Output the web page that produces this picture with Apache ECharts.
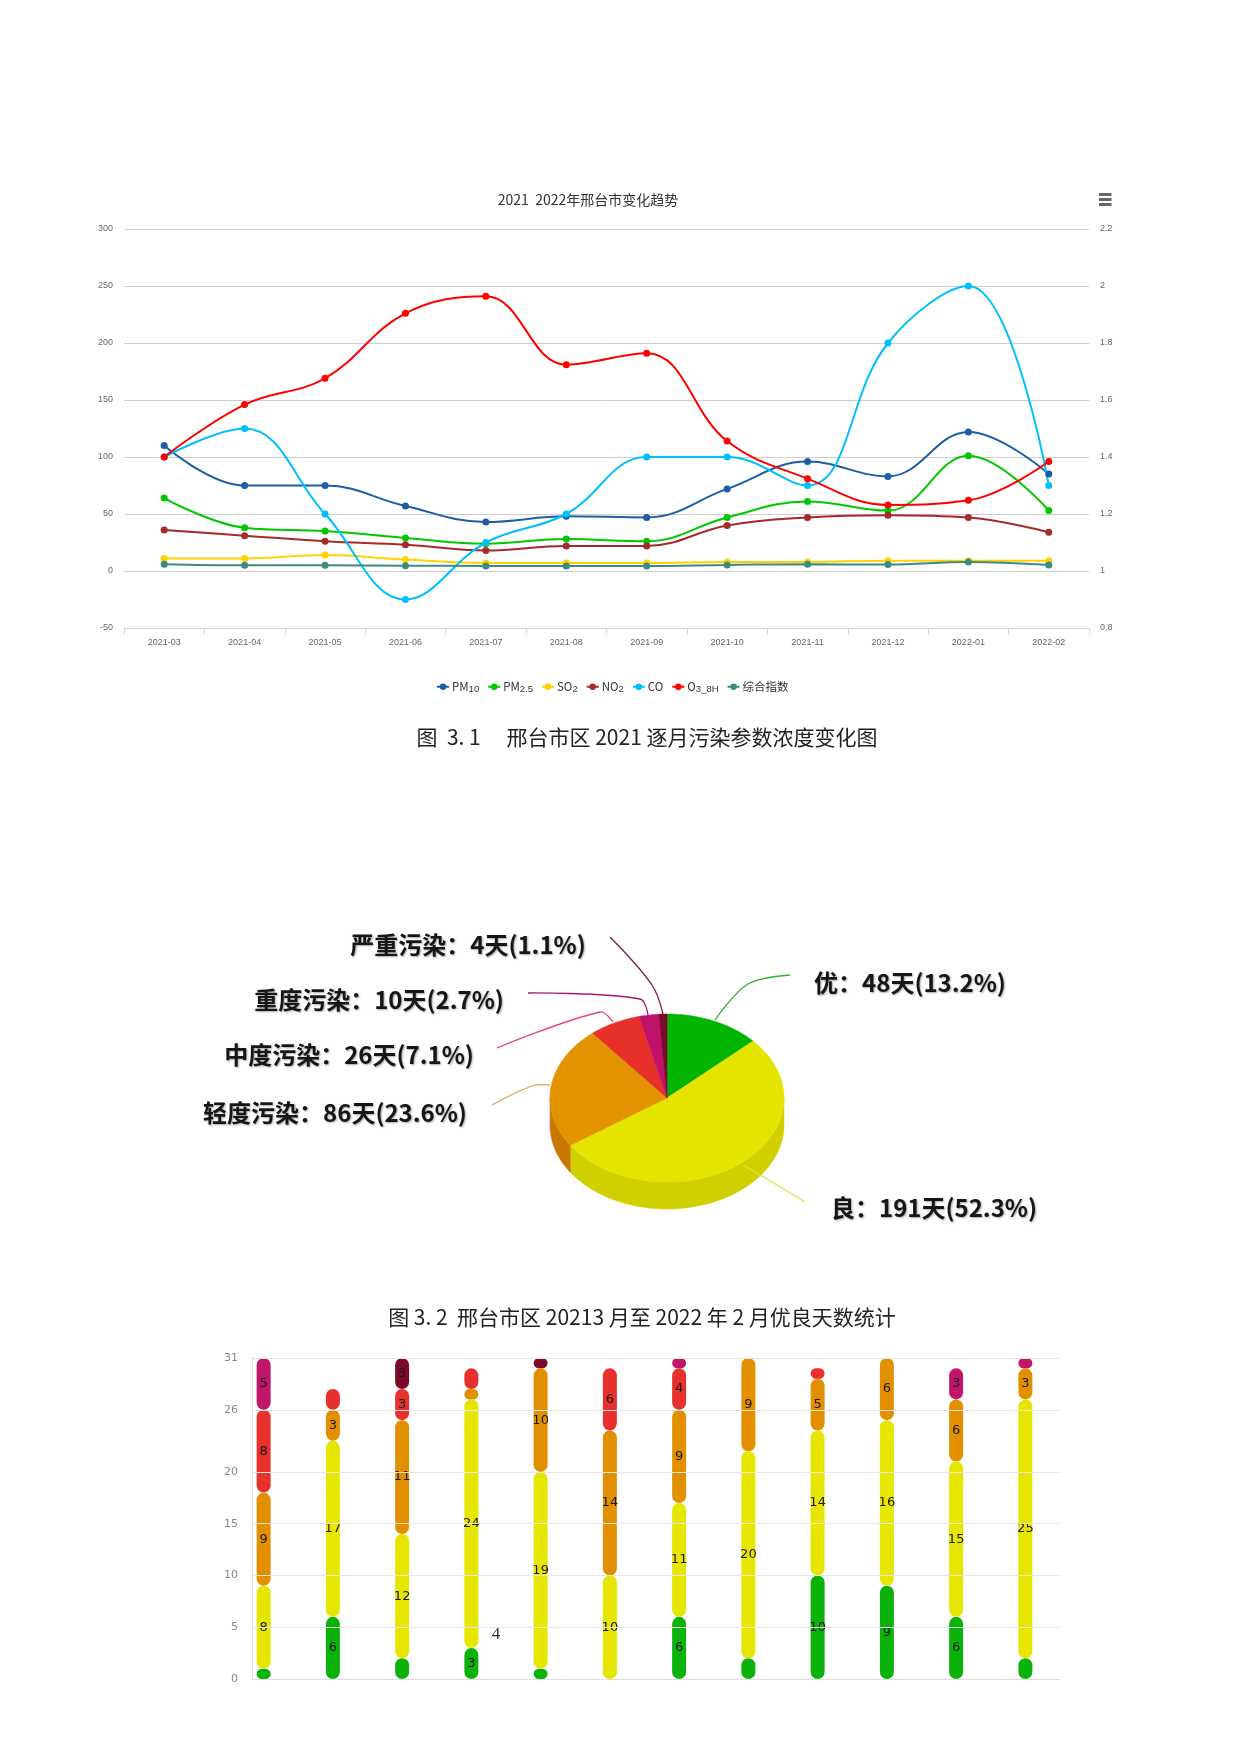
<!DOCTYPE html>
<html><head><meta charset="utf-8">
<script src="https://cdn.jsdelivr.net/npm/echarts@6/dist/echarts.min.js"></script>
<style>html,body{margin:0;padding:0;background:#fff}#c{width:1240px;height:1754px}</style>
</head><body><div id="c"></div>
<script>
// ---------- Chart 1 data ----------
const months = ['2021-03','2021-04','2021-05','2021-06','2021-07','2021-08','2021-09','2021-10','2021-11','2021-12','2022-01','2022-02'];
const pm10 = [110,75,75,57,43,48,47,72,96,83,122,85];
const pm25 = [64,38,35,29,24,28,26,47,61,53,101,53];
const so2  = [11,11,14,10,7,7,7,8,8,9,9,9];
const no2  = [36,31,26,23,18,22,22,40,47,49,47,34];
const co   = [1.4,1.5,1.2,0.9,1.1,1.2,1.4,1.4,1.3,1.8,2.0,1.3];
const o3   = [100,146,169,226,241,181,191,114,81,58,62,96];
const zhzs = [6,5,5,4.7,4.4,4.4,4.4,5.3,6,5.6,7.9,5.3];

// ---------- Pie data ----------
const pieNames = ['优','良','轻度污染','中度污染','重度污染','严重污染'];
const pieDays  = [48,191,86,26,10,4];

// ---------- Bar data (days per month) ----------
const dayYou      = [1,6,2,3,1,0,6,2,10,9,6,2];
const dayLiang    = [8,17,12,24,19,10,11,20,14,16,15,25];
const dayQing     = [9,3,11,1,10,14,9,9,5,6,6,3];
const dayZhong    = [8,2,3,2,0,6,4,0,1,0,0,0];
const dayZhongdu  = [5,0,0,0,0,0,1,0,0,0,3,1];
const dayYanzhong = [0,0,3,0,1,0,0,0,0,0,0,0];
const dayTicks    = [0,5,10,15,20,26,31];

// ---------- styles / layout ----------
const lineColors = {PM10:'#1c5ea6','PM2.5':'#00c800',SO2:'#ffd200',NO2:'#a52a2a',CO:'#00bfff',O3_8H:'#ff0000','综合指数':'#3d8a82'};
const levelColors = ['#0ab20a','#e6e600','#e39000','#e8302d','#c0166a','#7d0a2a'];
const pieTop  = ['#00b400','#e4e400','#e39200','#e8302a','#c0126a','#7a0a28'];
const pieSide = ['#009000','#d0d000','#c87800','#c02020','#a00f58','#600820'];
const leaderColors = ['#30b030','#e2e240','#e0a040','#e8486a','#a8186a','#7a1a48'];
const PC = [667, 1098], PR = [117, 84], PDEPTH = 27;
const labelPos = [[910,983],[934,1208],[335,1113],[349,1055],[379,1000],[468,945]];
const leaders = [
  [[790,975],[748,984],[715,1020]],
  [[805,1202],[772,1182],[743,1165]],
  [[492,1105],[532,1086],[550,1085]],
  [[497,1048],[600,1012],[613,1022]],
  [[528,993],[640,999],[648,1015]],
  [[610,937],[652,985],[663,1014]]
];
const CJK = "'Noto Sans CJK SC', sans-serif";

const total = pieDays.reduce((a,b)=>a+b,0);
const cum = [0]; pieDays.forEach((v,i)=>cum.push(cum[i]+v));

function ep(t, dy){ return [PC[0] + PR[0]*Math.sin(t), PC[1] - PR[1]*Math.cos(t) + (dy||0)]; }
function arc(a0, a1, dy){
  const n = Math.max(2, Math.ceil((a1-a0)/0.02)); const p=[];
  for(let k=0;k<=n;k++) p.push(ep(a0+(a1-a0)*k/n, dy));
  return p;
}

function lineSeries(name, data, yIdx){
  return {name, type:'line', data, yAxisIndex: yIdx||0, xAxisIndex:0, smooth:0.4,
    symbol:'circle', symbolSize:7, showSymbol:true,
    lineStyle:{width:2, color:lineColors[name]}, itemStyle:{color:lineColors[name]}};
}

function barSeries(name, data, idx){
  return {name, type:'bar', stack:'days', xAxisIndex:2, yAxisIndex:3, data, barWidth:14,
    itemStyle:{color:levelColors[idx], borderRadius:7},
    label:{show:true, position:'inside', color:'#1a1a1a', fontSize:13, fontFamily:'DejaVu Sans',
      formatter:p=> p.value>=3 ? String(p.value) : ''}};
}

const legendMap = {'PM10':'{n|PM}{s|10}','PM2.5':'{n|PM}{s|2.5}','SO2':'{n|SO}{s|2}','NO2':'{n|NO}{s|2}','CO':'{n|CO}','O3_8H':'{n|O}{s|3_8H}','综合指数':'{n|综合指数}'};

const chart = echarts.init(document.getElementById('c'), null, {renderer:'canvas'});
chart.setOption({
  animation:false,
  backgroundColor:'#fff',
  grid:[
    {left:124, right:151, top:229, bottom:1126},
    {left:252, right:180, top:1358, bottom:75},
    {left:229, right:180, top:1358, bottom:75}
  ],
  xAxis:[
    {type:'category', gridIndex:0, data:months, boundaryGap:true,
      axisLine:{onZero:false, lineStyle:{color:'#ccd6eb'}},
      axisTick:{show:true, length:7, lineStyle:{color:'#ccd6eb'}},
      axisLabel:{color:'#666', fontSize:9, margin:10, fontFamily:"'Liberation Sans Narrow', 'Liberation Sans', sans-serif"}},
    {type:'category', gridIndex:1, data:months, axisLine:{lineStyle:{color:'#dddddd'}}, axisTick:{show:false}, axisLabel:{show:false}},
    {type:'category', gridIndex:2, data:months, axisLine:{show:false}, axisTick:{show:false}, axisLabel:{show:false}}
  ],
  yAxis:[
    {type:'value', gridIndex:0, min:-50, max:300, interval:50,
      axisLine:{show:false}, axisTick:{show:false},
      axisLabel:{color:'#666', fontSize:9, margin:11, fontFamily:"'Liberation Sans Narrow', 'Liberation Sans', sans-serif"},
      splitLine:{lineStyle:{color:'#cfcfcf', width:1}}},
    {type:'value', gridIndex:0, min:0.8, max:2.2, interval:0.2, position:'right',
      axisLine:{show:false}, axisTick:{show:false},
      axisLabel:{color:'#666', fontSize:9, margin:11, fontFamily:"'Liberation Sans Narrow', 'Liberation Sans', sans-serif"},
      splitLine:{show:false}},
    {type:'value', gridIndex:1, min:0, max:31,
      axisLine:{show:true, lineStyle:{color:'#e2e2e2'}}, axisTick:{show:false, customValues:dayTicks},
      axisLabel:{color:'#888', fontSize:11, margin:14, customValues:dayTicks, fontFamily:'DejaVu Sans'},
      splitLine:{show:false}},
    {type:'value', gridIndex:2, min:0, max:31, show:false, splitLine:{show:false}}
  ],
  legend:{
    left:431, top:676, itemWidth:12, itemHeight:8, itemGap:8,
    data:['PM10','PM2.5','SO2','NO2','CO','O3_8H','综合指数'],
    formatter:n=>legendMap[n],
    textStyle:{color:'#333', fontSize:11, padding:[0,0,0,-2],
      rich:{n:{fontSize:11.5, lineHeight:16, verticalAlign:'middle', color:'#333', fontFamily:"'Liberation Sans Narrow', 'Noto Sans CJK SC', sans-serif"},
            s:{fontSize:9.5, lineHeight:10, verticalAlign:'bottom', color:'#333', fontFamily:"'Liberation Sans Narrow', 'Liberation Sans', sans-serif"}}}
  },
  series:[
    lineSeries('PM10', pm10),
    lineSeries('PM2.5', pm25),
    lineSeries('SO2', so2),
    lineSeries('NO2', no2),
    lineSeries('CO', co, 1),
    lineSeries('O3_8H', o3),
    lineSeries('综合指数', zhzs),
    {type:'custom', coordinateSystem:'none', silent:true,
      data: pieDays.map((v,i)=>[v, cum[i]/total, cum[i+1]/total]),
      renderItem:(params, api)=>{
        const i = params.dataIndex;
        const a0 = api.value(1)*Math.PI*2, a1 = api.value(2)*Math.PI*2;
        const children = [];
        const topPts = [PC].concat(arc(a0,a1,0));
        children.push({type:'polygon', shape:{points:topPts}, style:{fill:pieTop[i], stroke:pieTop[i], lineWidth:0.5}, z2:10});
        const lo = Math.max(a0, Math.PI/2), hi = Math.min(a1, Math.PI*1.5);
        if(hi>lo){
          const sp = arc(lo,hi,0).concat(arc(lo,hi,PDEPTH).reverse());
          children.push({type:'polygon', shape:{points:sp}, style:{fill:pieSide[i], stroke:pieSide[i], lineWidth:0.5}, z2:5});
        }
        const v = api.value(0);
        const pct = (v/total*100).toFixed(1);
        children.push({type:'polyline', shape:{points:leaders[i], smooth:0.35}, style:{stroke:leaderColors[i], lineWidth:1.3, fill:null}, z2:12});
        children.push({type:'text', x:labelPos[i][0], y:labelPos[i][1], z2:15,
          style:{text: pieNames[i]+'：'+v+'天('+pct+'%)', align:'center', verticalAlign:'middle',
            font:'bold 24px '+CJK, fill:'#161616',
            textShadowColor:'rgba(0,0,0,0.35)', textShadowBlur:2, textShadowOffsetX:1, textShadowOffsetY:1}});
        return {type:'group', children};
      }},
    {type:'line', xAxisIndex:1, yAxisIndex:2, data:[], silent:true,
      markLine:{silent:true, symbol:'none', label:{show:false},
        lineStyle:{color:'#e6e6e6', type:'solid', width:1},
        data: dayTicks.filter(v=>v>0).map(v=>({yAxis:v}))}},
    barSeries('优', dayYou, 0),
    barSeries('良', dayLiang, 1),
    barSeries('轻度污染', dayQing, 2),
    barSeries('中度污染', dayZhong, 3),
    barSeries('重度污染', dayZhongdu, 4),
    barSeries('严重污染', dayYanzhong, 5)
  ],
  graphic:[
    {type:'text', x:588, y:200, style:{text:'2021  2022年邢台市变化趋势', align:'center', verticalAlign:'middle', font:"14px 'Liberation Sans Narrow', "+CJK, fill:'#333'}},
    {type:'group', x:1099, y:193, children:[
      {type:'rect', shape:{x:0,y:0,width:12.5,height:3}, style:{fill:'#666'}},
      {type:'rect', shape:{x:0,y:5,width:12.5,height:3}, style:{fill:'#666'}},
      {type:'rect', shape:{x:0,y:10,width:12.5,height:3}, style:{fill:'#666'}}
    ]},
    {type:'text', x:647, y:737, style:{text:'图  3. 1　 邢台市区 2021 逐月污染参数浓度变化图', align:'center', verticalAlign:'middle', font:'21px '+CJK, fill:'#222'}},
    {type:'text', x:642, y:1317, style:{text:'图 3. 2  邢台市区 20213 月至 2022 年 2 月优良天数统计', align:'center', verticalAlign:'middle', font:'21px '+CJK, fill:'#222'}},
    {type:'text', x:496, y:1635, style:{text:'4', align:'center', verticalAlign:'middle', font:"17px 'Liberation Serif', serif", fill:'#333'}}
  ]
});
</script></body></html>
